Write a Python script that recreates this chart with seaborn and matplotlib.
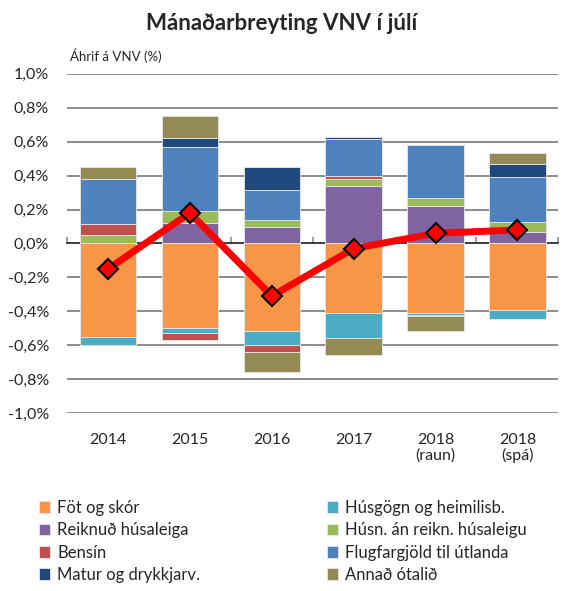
import numpy as np
import pandas as pd
import matplotlib
matplotlib.use("Agg")
import matplotlib.pyplot as plt
import seaborn as sns

# categories and series (values in %-points of CPI effect)
years = ["2014", "2015", "2016", "2017", "2018\n(raun)", "2018\n(spá)"]

fot_og_skor = [-0.551, -0.496, -0.514, -0.412, -0.408, -0.390]
husgogn = [-0.047, -0.029, -0.086, -0.143, -0.012, -0.057]
reiknud_husaleiga = [0.000, 0.120, 0.100, 0.337, 0.220, 0.067]
husn_an_reikn = [0.049, 0.074, 0.041, 0.041, 0.050, 0.057]
bensin = [0.063, -0.042, -0.037, 0.020, 0.000, 0.000]
flugfargjold = [0.269, 0.377, 0.175, 0.220, 0.310, 0.266]
matur = [0.000, 0.053, 0.135, 0.007, -0.010, 0.077]
annad = [0.070, 0.129, -0.122, -0.102, -0.088, 0.067]

total = [-0.15, 0.18, -0.31, -0.03, 0.06, 0.08]

series_names = ["Föt og skór", "Húsgögn og heimilisb.", "Reiknuð húsaleiga",
                "Húsn. án reikn. húsaleigu", "Bensín", "Flugfargjöld til útlanda",
                "Matur og drykkjarv.", "Annað ótalið"]
series_values = [fot_og_skor, husgogn, reiknud_husaleiga, husn_an_reikn,
                 bensin, flugfargjold, matur, annad]
series_colors = ["#F79646", "#4BACC6", "#8064A2", "#9BBB59",
                 "#C0504D", "#4F81BD", "#1F497D", "#948A54"]

sns.set_theme(style="white")
plt.rcParams["font.family"] = ["Lato", "DejaVu Sans"]

fig = plt.figure(figsize=(5.64, 5.91), dpi=100)
ax = fig.add_axes([0.119, 0.301, 0.871, 0.574])

# horizontal gridlines behind bars
yticks = np.round(np.arange(-1.0, 1.01, 0.2), 1)
for yv in yticks:
    if yv != 0:
        ax.axhline(yv, color="#8c8c8c", lw=1.4, zorder=0)

pos_cum = np.zeros(len(years))
neg_cum = np.zeros(len(years))
for name, vals, col in zip(series_names, series_values, series_colors):
    v = np.array(vals)
    bottom = np.where(v >= 0, pos_cum, neg_cum)
    sns.barplot(x=years, y=v, bottom=bottom, color=col, saturation=1,
                width=0.69, label=name, ax=ax, edgecolor="#e8e8e8",
                linewidth=0.6, zorder=2)
    pos_cum = pos_cum + np.where(v >= 0, v, 0)
    neg_cum = neg_cum + np.where(v < 0, v, 0)

# zero axis line with category-boundary ticks
sec = ax.secondary_xaxis(0.5)
sec.set_xticks(np.arange(-0.5, len(years), 1.0))
sec.set_xticklabels([])
sec.tick_params(axis="x", direction="out", length=4, width=1.2, color="#8c8c8c")
sec.spines["bottom"].set_color("#8c8c8c")
sec.spines["bottom"].set_linewidth(1.4)

sns.lineplot(x=np.arange(len(years)), y=total, color="#FF0000", lw=5,
             marker="D", markersize=10, markerfacecolor="#FF0000",
             markeredgecolor="black", markeredgewidth=1.5, ax=ax, zorder=5)

ax.set_xlim(-0.5, len(years) - 0.5)
ax.set_ylim(-1.0, 1.0)
ax.set_yticks(yticks)
ax.set_yticklabels([f"{t + 0.0:.1f}%".replace(".", ",") for t in yticks], fontsize=11.5)
ax.set_xticks(range(len(years)))
ax.set_xticklabels(years, fontsize=11.5, linespacing=1.15)
ax.tick_params(axis="y", length=0, pad=13)
ax.tick_params(axis="x", length=0, pad=14)
ax.set_xlabel("")
ax.set_ylabel("")
for s in ax.spines.values():
    s.set_visible(False)

fig.text(0.125, 0.893, "Áhrif á VNV (%)", fontsize=9.5, ha="left", va="bottom")
fig.text(0.5, 0.961, "Mánaðarbreyting VNV í júlí", fontsize=16, fontweight="bold",
         ha="center", va="center")

handles, labels = ax.get_legend_handles_labels()
pairs = [(h, l) for h, l in zip(handles, labels) if l in series_names]
order = [0, 2, 4, 6, 1, 3, 5, 7]
if ax.legend_:
    ax.legend_.remove()
fig.legend([pairs[i][0] for i in order], [pairs[i][1] for i in order],
           ncol=2, loc="upper left", bbox_to_anchor=(0.054, 0.168), frameon=False,
           borderpad=0, fontsize=12, handlelength=0.7, handleheight=0.7,
           handletextpad=0.4, columnspacing=7.6, labelspacing=0.38)

fig.savefig("out.png", dpi=100)
